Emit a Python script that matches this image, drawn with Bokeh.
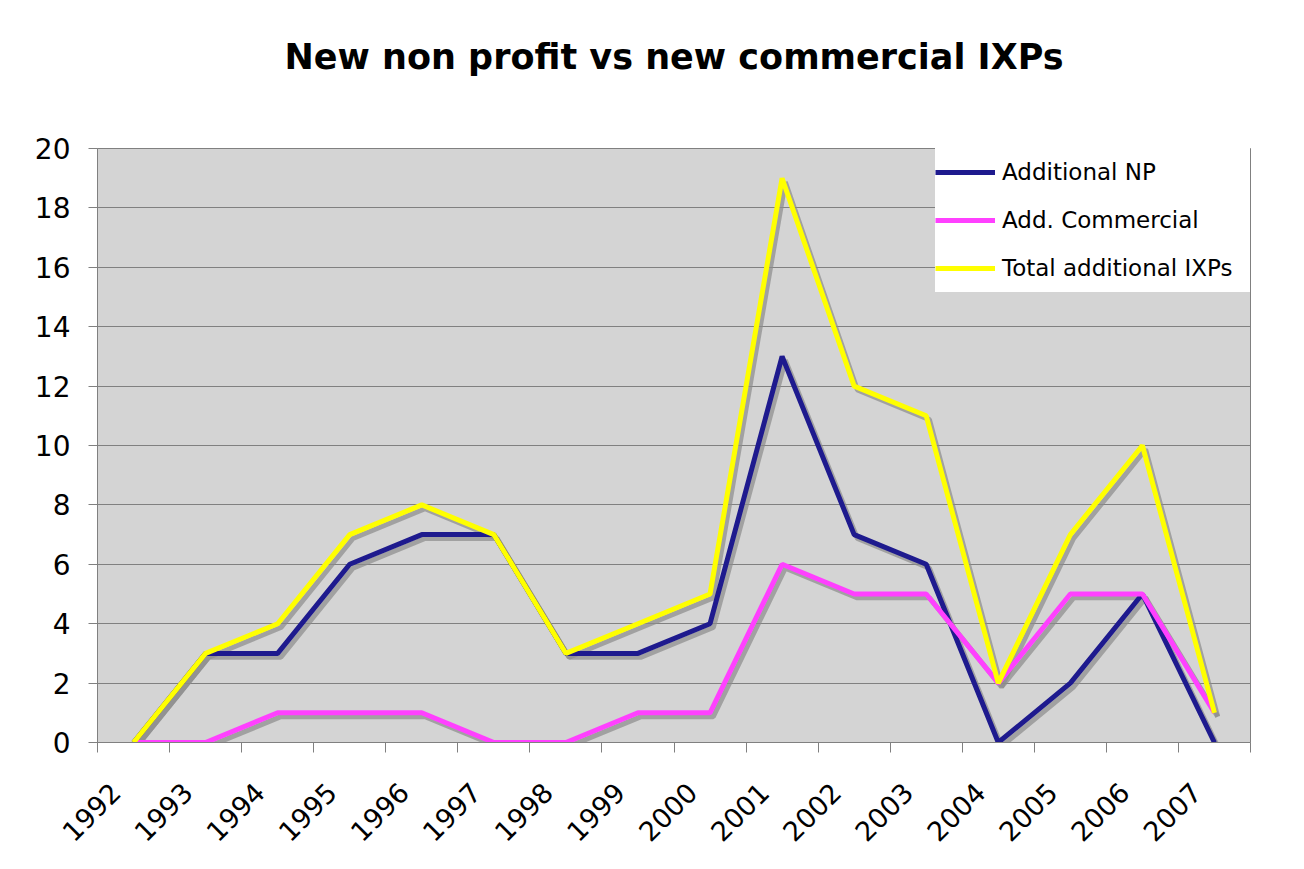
from bokeh.plotting import figure
from bokeh.models import (ColumnDataSource, FactorRange, Range1d, LinearAxis,
                          FixedTicker, Legend, LegendItem, Title, SingleIntervalTicker)
from bokeh.transform import dodge
from bokeh.embed import file_html
from bokeh.resources import INLINE
from math import pi

years = ["1992", "1993", "1994", "1995", "1996", "1997", "1998", "1999",
         "2000", "2001", "2002", "2003", "2004", "2005", "2006", "2007"]
additional_np = [0, 3, 3, 6, 7, 7, 3, 3, 4, 13, 7, 6, 0, 2, 5, 0]
add_commercial = [0, 0, 1, 1, 1, 0, 0, 1, 1, 6, 5, 5, 2, 5, 5, 1]
total_additional = [0, 3, 4, 7, 8, 7, 3, 4, 5, 19, 12, 11, 2, 7, 10, 1]

series_names = ["Additional NP", "Add. Commercial", "Total additional IXPs"]
series_colors = ["#1e1a8e", "#ff40ff", "#ffff00"]
title_text = "New non profit vs new commercial IXPs"

FONT = "DejaVu Sans"

src = ColumnDataSource(dict(year=years, np=additional_np, com=add_commercial, tot=total_additional))

p = figure(width=1300, height=865, x_range=FactorRange(*years), y_range=Range1d(0, 20),
           output_backend="svg", toolbar_location=None, x_axis_location=None,
           y_axis_location="left",
           min_border_left=97, min_border_right=50, min_border_top=148, min_border_bottom=123)

p.background_fill_color = "#d4d4d4"
p.border_fill_color = "white"
p.outline_line_color = "#808080"
p.outline_line_width = 1

# title (blank second line keeps the heading high above the plot area)
p.add_layout(Title(text=title_text + "\n ", align="center", text_font=FONT,
                   text_font_size="35px", text_font_style="bold", text_color="black",
                   standoff=63), "above")

# y axis
ya = p.yaxis[0]
ya.ticker = SingleIntervalTicker(interval=2)
ya.axis_line_color = "#808080"
ya.major_tick_line_color = "#808080"
ya.major_tick_out = 9
ya.major_tick_in = 0
ya.minor_tick_line_color = None
ya.major_label_text_font = FONT
ya.major_label_text_font_size = "28px"
ya.major_label_text_color = "black"
ya.major_label_standoff = 18

p.xgrid.grid_line_color = None
p.ygrid.grid_line_color = "#808080"
p.ygrid.grid_line_width = 1

# x tick axis (category boundaries)
bounds = list(range(len(years) + 1))
tick_axis = LinearAxis(ticker=FixedTicker(ticks=bounds),
                       axis_line_color="#808080", major_tick_line_color="#808080",
                       major_tick_out=10, major_tick_in=0, minor_tick_line_color=None,
                       major_label_overrides={b: "" for b in bounds},
                       major_label_text_font_size="1px", major_label_standoff=0)
p.add_layout(tick_axis, "below")

# x label axis (category names, nudged slightly left of each category centre)
label_pos = [i + 0.25 for i in range(len(years))]
label_axis = LinearAxis(ticker=FixedTicker(ticks=label_pos),
                        major_label_overrides={lp: y for lp, y in zip(label_pos, years)},
                        axis_line_color=None, major_tick_line_color=None,
                        major_tick_out=0, major_tick_in=0, minor_tick_line_color=None,
                        major_label_orientation=pi / 4,
                        major_label_text_font=FONT, major_label_text_font_size="27px",
                        major_label_text_color="black", major_label_standoff=35)
p.add_layout(label_axis, "below")

# shadows
for col in ["np", "com", "tot"]:
    p.line(x=dodge("year", 0.045, range=p.x_range), y=dodge(col, -0.13), source=src,
           line_color="#8c8c8c", line_alpha=0.7, line_width=5)

renderers = []
for col, name, color in zip(["np", "com", "tot"], series_names, series_colors):
    r = p.line(x="year", y=col, source=src, line_color=color, line_width=5)
    renderers.append((name, r))

legend = Legend(items=[LegendItem(label=n, renderers=[r]) for n, r in renderers],
                location="top_right", background_fill_color="white", background_fill_alpha=1,
                border_line_color=None, label_text_font=FONT, label_text_font_size="23px",
                label_text_color="black", glyph_width=60, glyph_height=16, label_height=48,
                label_width=248, label_standoff=7, spacing=0, padding=10, margin=0)
p.add_layout(legend, "center")

open("out.html", "w").write(file_html(p, INLINE))
